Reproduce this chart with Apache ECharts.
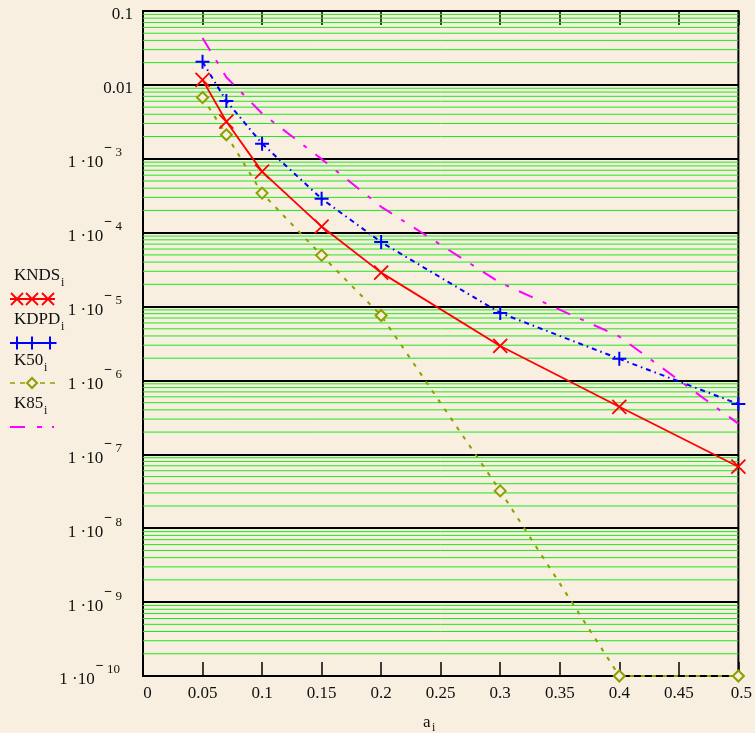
<!DOCTYPE html>
<html><head><meta charset="utf-8">
<script src="https://cdn.jsdelivr.net/npm/echarts@6/dist/echarts.min.js"></script>
<style>html,body{margin:0;padding:0;background:#f8efe0}#c{width:755px;height:733px}</style>
</head><body><div id="c"></div><script>
// ---- data ----
const xValues = [0.05, 0.07, 0.1, 0.15, 0.2, 0.3, 0.4, 0.5];
const KNDS = [0.0117, 3.19e-3, 6.7e-4, 1.21e-4, 2.88e-5, 2.93e-6, 4.4e-7, 6.8e-8];
const KDPD = [0.0205, 6.07e-3, 1.6e-3, 2.88e-4, 7.46e-5, 8.2e-6, 1.96e-6, 4.8e-7];
const K50  = [6.74e-3, 2.11e-3, 3.43e-4, 4.93e-5, 7.56e-6, 3.2e-8, 1e-10, 1e-10];
const K85  = [0.0432, 0.0127, 4.1e-3, 9.9e-4, 2.24e-4, 2.1e-5, 3.93e-6, 2.6e-7];
const xTickLabels = ['0','0.05','0.1','0.15','0.2','0.25','0.3','0.35','0.4','0.45','0.5'];
const yDecades    = [-1, -2, -3, -4, -5, -6, -7, -8, -9, -10];
const yMainLabels = ['0.1','0.01','1 ·10','1 ·10','1 ·10','1 ·10','1 ·10','1 ·10','1 ·10','1 ·10'];
const yExpLabels  = ['','','3','4','5','6','7','8','9','10'];
const minorMultipliers = [2,3,4,5,6,7,8,9];
const seriesNames = ['KNDS','KDPD','K50','K85'];

// ---- styles ----
const BG = '#f8efe0';
const SERIF = '"Liberation Serif","DejaVu Serif",serif';
const TXT = '#111';
const RED = '#ff0000', BLUE = '#0000ff', OLIVE = '#8aa000', MAG = '#ff00ff', GRN = '#1ee81e';

function pairs(ys){ return xValues.map((x,i)=>[x, ys[i]]); }
function decIdx(v){ return yDecades.indexOf(Math.round(Math.log10(v))); }

// minor grid lines (2..9 × each decade) as one broken line series
const minorData = [];
for (let e = -10; e < -1; e++) for (const m of minorMultipliers) {
  const v = m * Math.pow(10, e);
  minorData.push([0, v], [0.5, v], [0.5, '-']);
}

// legend graphics
const g = [];
function txt(x, y, t, fs){ g.push({type:'text', x:x, y:y, silent:true, style:{text:t, fill:TXT, font: fs+'px '+SERIF, verticalAlign:'middle', textVerticalAlign:'middle'}}); }
function ln(x1,y1,x2,y2,c,w,dash){ g.push({type:'line', silent:true, shape:{x1,y1,x2,y2}, style:{stroke:c, lineWidth:w, lineDash:dash||null}}); }
function xMark(cx,cy,h,c){ ln(cx-h,cy-h,cx+h,cy+h,c,1.8); ln(cx-h,cy+h,cx+h,cy-h,c,1.8); }
function pMark(cx,cy,h,c){ ln(cx-h,cy,cx+h,cy,c,2); ln(cx,cy-h,cx,cy+h,c,2); }

txt(14, 276, seriesNames[0], 17); txt(61, 283, 'i', 12);
ln(10, 299, 55, 299, RED, 1.8); xMark(17,299,6,RED); xMark(32,299,6,RED); xMark(48,299,6,RED);
txt(14, 320, seriesNames[1], 17); txt(61, 327, 'i', 12);
ln(10, 343, 55, 343, BLUE, 2); pMark(17,343,6.5,BLUE); pMark(32,343,6.5,BLUE); pMark(50,343,6.5,BLUE);
txt(14, 361, seriesNames[2], 17); txt(44, 368, 'i', 12);
ln(10, 383, 55, 383, OLIVE, 1.5, [5,5]);
g.push({type:'polygon', silent:true, shape:{points:[[32,378],[37,383],[32,388],[27,383]]}, style:{fill:BG, stroke:OLIVE, lineWidth:2}});
txt(14, 404, seriesNames[3], 17); txt(44, 411, 'i', 12);
ln(10, 427, 25, 427, MAG, 2); ln(37, 427, 42, 427, MAG, 2); ln(52, 427, 54, 427, MAG, 2);
// x axis name a_i
txt(423, 723, 'a', 17); txt(432, 728, 'i', 12);

const chart = echarts.init(document.getElementById('c'), null, {renderer:'canvas'});
const xAxisBase = {
  type:'value', min:0, max:0.5, interval:0.05,
  axisLine:{show:true, lineStyle:{color:'#000', width:2}},
  axisTick:{show:true, inside:true, length:14, lineStyle:{color:'#000', width:1.5}},
  splitLine:{show:false}
};
const option = {
  backgroundColor: BG,
  animation: false,
  grid: {left:143, right:15, top:11, bottom:57, show:true, borderColor:'#000', borderWidth:2, backgroundColor:'transparent'},
  xAxis: [
    Object.assign({}, xAxisBase, {position:'bottom',
      axisLabel:{margin:9, color:TXT, fontFamily:SERIF, fontSize:17,
        formatter: v => { const i = Math.round(v/0.05); const t = xTickLabels[i];
          if (i === 0) return '{z|' + t + '}';
          if (i === xTickLabels.length-1) return '{e|' + t + '}';
          return t; },
        rich:{ z:{fontFamily:SERIF, fontSize:17, color:TXT, padding:[0,0,0,9]}, e:{fontFamily:SERIF, fontSize:17, color:TXT, padding:[0,0,0,6]} } }}),
    Object.assign({}, xAxisBase, {position:'top', axisLabel:{show:false}})
  ],
  yAxis: [
    {type:'log', logBase:10, min:1e-10, max:0.1, position:'left',
     axisLine:{show:true, lineStyle:{color:'#000', width:2}},
     axisTick:{show:false},
     splitLine:{show:true, lineStyle:{color:'#000', width:2}},
     axisLabel:{margin:10, color:TXT, fontFamily:SERIF, fontSize:17,
       formatter: v => { const i = decIdx(v); if (i < 0) return '';
         if (!yExpLabels[i]) return '{n|' + yMainLabels[i] + '}';
         const padStyle = yExpLabels[i].length > 1 ? 's2' : 's1';
         return '{m|' + yMainLabels[i] + '}{mi|−}{' + padStyle + '| ' + yExpLabels[i] + '}'; },
       rich:{
         n:{fontFamily:SERIF, fontSize:17, color:TXT, lineHeight:24, verticalAlign:'bottom'},
         m:{fontFamily:SERIF, fontSize:17, color:TXT, lineHeight:25, verticalAlign:'bottom'},
         mi:{fontFamily:SERIF, fontSize:14, fontWeight:'bold', color:TXT, height:5, lineHeight:5, verticalAlign:'top', padding:[0,0,0,1]},
         s1:{fontFamily:SERIF, fontSize:13, color:TXT, lineHeight:13, verticalAlign:'top', padding:[0,11,0,0]},
         s2:{fontFamily:SERIF, fontSize:13, color:TXT, lineHeight:13, verticalAlign:'top', padding:[0,13,0,0]}
       } }}
  ],
  series: [
    {type:'line', name:'minor', data:minorData, silent:true, z:1, symbol:'none', showSymbol:false,
     connectNulls:false, lineStyle:{color:GRN, width:1}, emphasis:{disabled:true}},
    {type:'line', name:seriesNames[3], data:pairs(K85), showSymbol:false, symbol:'none', z:3,
     lineStyle:{color:MAG, width:2, type:[15,11,4,11]}},
    {type:'line', name:seriesNames[2], data:pairs(K50), z:4, showAllSymbol:true,
     symbol:'diamond', symbolSize:11,
     lineStyle:{color:OLIVE, width:2, type:[4,7]},
     itemStyle:{color:BG, borderColor:OLIVE, borderWidth:2}},
    {type:'line', name:seriesNames[1], data:pairs(KDPD), z:5, showAllSymbol:true,
     symbol:'path://M5,0L5,10M0,5L10,5', symbolSize:14,
     lineStyle:{color:BLUE, width:2, type:[5,4,1.5,4]},
     itemStyle:{color:BLUE, borderColor:BLUE, borderWidth:2}},
    {type:'line', name:seriesNames[0], data:pairs(KNDS), z:6, showAllSymbol:true,
     symbol:'path://M0,0L10,10M10,0L0,10', symbolSize:14,
     lineStyle:{color:RED, width:1.8},
     itemStyle:{color:RED, borderColor:RED, borderWidth:1.8}}
  ],
  graphic: g
};
chart.setOption(option);
</script></body></html>
